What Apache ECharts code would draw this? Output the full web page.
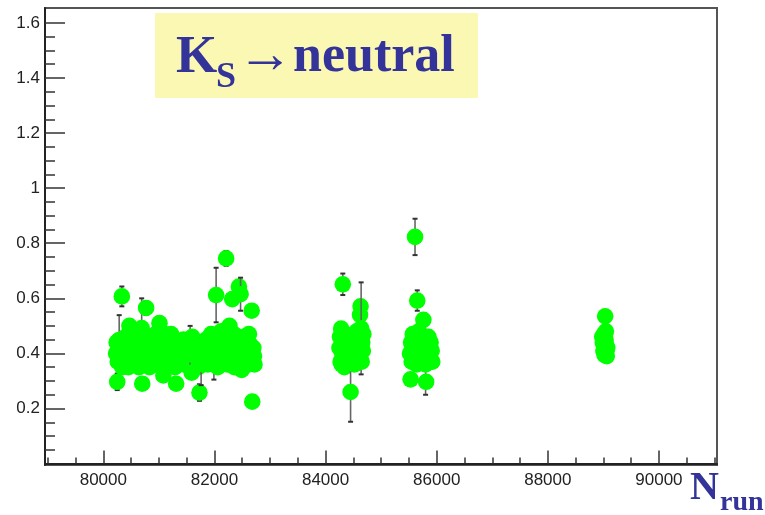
<!DOCTYPE html>
<html>
<head>
<meta charset="utf-8">
<script src="https://cdn.jsdelivr.net/npm/echarts@6/dist/echarts.min.js"></script>
<style>html,body{margin:0;padding:0;background:#fff}#c{width:765px;height:515px}</style>
</head>
<body>
<div id="c"></div>
<script>
// ---- data: run number, ratio value, error ----
const runs = [
  // period A (80200-82720)
  80230,80240,80250,80260,80275,80285,80300,80310,80333,80340,80360,80380,80400,80420,80440,80450,80470,80480,80500,
  80530,80550,80560,80590,80610,80620,80640,80660,80680,80690,80700,80720,80740,80770,80790,80810,80830,80850,80860,80890,80920,80940,80950,80980,
  81010,81030,81040,81060,81080,81100,81120,81140,81150,81180,81200,81220,81230,81260,81290,81310,81330,81340,81360,81390,81420,81440,81450,81480,
  81500,81510,81540,81562,81590,81600,81620,81650,81680,81700,81710,81730,81760,81790,81800,81820,81850,81870,81880,81910,81940,81960,81970,81990,
  82010,82030,82050,82060,82080,82100,82120,82130,82160,82180,82200,82210,82230,82250,82270,82280,82290,82320,82340,82350,82360,82380,82400,82410,82430,
  82440,82460,82470,82480,82490,82510,82530,82540,82550,82570,82590,82610,82620,82630,82650,82660,82670,82680,82690,82700,82710,82720,
  // period B (84250-84680)
  84250,84260,84270,84280,84290,84300,84310,84320,84330,84340,84350,84360,84380,84400,84420,84440,84450,84470,84480,84500,84520,
  84540,84550,84560,84580,84590,84600,84610,84620,84630,84640,84650,84660,84670,84680,
  // period C (85520-85920)
  85520,85530,85540,85550,85560,85570,85580,85600,85610,85620,85630,85640,85650,85660,85680,85690,85700,85720,85740,85750,85760,85780,
  85790,85800,85810,85820,85830,85850,85860,85870,85890,85910,85920,
  // period D (~89000)
  88980,88990,89000,89010,89020,89032,89040,89050,89055,89060,89045,89070
];
const values = [
  0.40,0.44,0.297,0.37,0.395,0.449,0.42,0.38,0.607,0.35,0.43,0.39,0.46,0.37,0.41,0.35,0.50,0.38,0.43,
  0.36,0.41,0.45,0.40,0.38,0.48,0.35,0.42,0.44,0.492,0.29,0.39,0.44,0.565,0.37,0.41,0.35,0.42,0.46,0.39,0.43,0.47,0.36,0.41,
  0.51,0.44,0.41,0.38,0.32,0.47,0.40,0.37,0.42,0.36,0.45,0.47,0.39,0.43,0.35,0.29,0.41,0.37,0.44,0.38,0.42,0.45,0.36,0.40,
  0.38,0.43,0.37,0.424,0.33,0.46,0.41,0.39,0.44,0.40,0.35,0.258,0.37,0.42,0.36,0.39,0.45,0.43,0.36,0.41,0.47,0.41,0.38,0.36,
  0.43,0.612,0.40,0.35,0.46,0.37,0.48,0.42,0.39,0.44,0.40,0.745,0.36,0.41,0.50,0.44,0.38,0.597,0.43,0.47,0.35,0.40,0.38,0.45,0.37,
  0.643,0.42,0.615,0.40,0.34,0.39,0.46,0.36,0.41,0.37,0.44,0.36,0.47,0.40,0.43,0.38,0.555,0.225,0.38,0.42,0.39,0.36,
  0.42,0.46,0.37,0.49,0.36,0.40,0.651,0.44,0.40,0.35,0.43,0.47,0.41,0.37,0.43,0.39,0.26,0.45,0.42,0.40,0.36,
  0.43,0.39,0.48,0.38,0.42,0.45,0.40,0.54,0.571,0.491,0.37,0.44,0.41,0.47,
  0.40,0.306,0.44,0.37,0.43,0.47,0.42,0.39,0.823,0.45,0.40,0.36,0.592,0.41,0.48,0.44,0.38,0.43,0.40,0.46,0.522,0.45,
  0.37,0.36,0.297,0.40,0.42,0.46,0.43,0.39,0.44,0.41,0.37,
  0.46,0.44,0.41,0.47,0.395,0.535,0.45,0.43,0.41,0.39,0.48,0.42
];
const errors = [
  0.02,0.02,0.03,0.02,0.035,0.09,0.02,0.015,0.036,0.02,0.015,0.02,0.02,0.015,0.02,0.015,0.02,0.015,0.02,
  0.02,0.015,0.015,0.02,0.015,0.02,0.02,0.015,0.02,0.108,0.02,0.02,0.02,0.025,0.015,0.02,0.02,0.015,0.02,0.015,0.02,0.015,0.02,0.015,
  0.02,0.02,0.015,0.015,0.02,0.015,0.02,0.015,0.02,0.015,0.02,0.015,0.015,0.02,0.02,0.02,0.015,0.015,0.02,0.02,0.015,0.015,0.02,0.02,
  0.015,0.02,0.015,0.076,0.02,0.015,0.02,0.015,0.02,0.015,0.02,0.03,0.085,0.02,0.015,0.015,0.02,0.015,0.02,0.015,0.02,0.015,0.02,0.055,
  0.02,0.099,0.02,0.015,0.015,0.02,0.015,0.02,0.015,0.02,0.015,0.027,0.02,0.015,0.02,0.015,0.02,0.02,0.015,0.015,0.02,0.02,0.015,0.015,0.02,
  0.02,0.02,0.06,0.015,0.02,0.015,0.02,0.015,0.02,0.015,0.02,0.02,0.015,0.015,0.02,0.015,0.02,0.02,0.02,0.015,0.02,0.015,
  0.02,0.02,0.03,0.02,0.02,0.015,0.039,0.015,0.02,0.015,0.015,0.02,0.015,0.02,0.02,0.015,0.108,0.02,0.015,0.015,0.02,
  0.02,0.015,0.015,0.02,0.015,0.02,0.02,0.02,0.02,0.167,0.02,0.015,0.02,0.02,
  0.02,0.02,0.02,0.015,0.015,0.02,0.015,0.02,0.066,0.02,0.015,0.015,0.037,0.02,0.02,0.015,0.015,0.02,0.015,0.015,0.02,0.02,
  0.02,0.11,0.02,0.015,0.015,0.02,0.015,0.02,0.015,0.02,0.02,
  0.01,0.01,0.01,0.01,0.01,0.01,0.01,0.01,0.01,0.01,0.01,0.01
];
// ---- axis ticks ----
const xMajor = [80000,82000,84000,86000,88000,90000];
const xMinor = [79000,79500,80500,81000,81500,82500,83000,83500,84500,85000,85500,86500,87000,87500,88500,89000,89500,90500,91000];
const yMajor = [0.2,0.4,0.6,0.8,1,1.2,1.4,1.6];
const yMinor = [0.05,0.1,0.15,0.25,0.3,0.35,0.45,0.5,0.55,0.65,0.7,0.75,0.85,0.9,0.95,1.05,1.1,1.15,1.25,1.3,1.35,1.45,1.5,1.55];

const data = runs.map((r, i) => [r, values[i], errors[i]]);

const chart = echarts.init(document.getElementById('c'), null, {renderer: 'canvas'});
const X_MIN = 78950, X_MAX = 91045, Y_MIN = -0.005, Y_MAX = 1.654;
const axisFont = {fontFamily: '"Liberation Sans", Arial, sans-serif', fontSize: 17, color: '#222'};
const blue = '#333399';
const serif = '"Liberation Serif", "Times New Roman", serif';
const plain = v => String(v);

chart.setOption({
  animation: false,
  backgroundColor: '#fff',
  grid: {left: 45, right: 48, top: 8, bottom: 50, show: true, borderColor: '#555', borderWidth: 2, backgroundColor: 'transparent'},
  xAxis: [
    {type: 'value', min: X_MIN, max: X_MAX, position: 'bottom',
     axisLine: {show: true, lineStyle: {color: '#222', width: 2}},
     axisTick: {show: true, inside: true, length: 13, customValues: xMajor, lineStyle: {color: '#333', width: 1.5}},
     axisLabel: Object.assign({show: true, margin: 7, customValues: xMajor, formatter: plain}, axisFont),
     splitLine: {show: false}},
    {type: 'value', min: X_MIN, max: X_MAX, position: 'bottom',
     axisLine: {show: false},
     axisTick: {show: true, inside: true, length: 6, customValues: xMinor, lineStyle: {color: '#333', width: 1.5}},
     axisLabel: {show: false}, splitLine: {show: false}}
  ],
  yAxis: [
    {type: 'value', min: Y_MIN, max: Y_MAX, position: 'left',
     axisLine: {show: true, lineStyle: {color: '#222', width: 2}},
     axisTick: {show: true, inside: true, length: 20, customValues: yMajor, lineStyle: {color: '#333', width: 1.5}},
     axisLabel: Object.assign({show: true, margin: 5, customValues: yMajor, formatter: plain}, axisFont),
     splitLine: {show: false}},
    {type: 'value', min: Y_MIN, max: Y_MAX, position: 'left',
     axisLine: {show: false},
     axisTick: {show: true, inside: true, length: 10, customValues: yMinor, lineStyle: {color: '#333', width: 1.5}},
     axisLabel: {show: false}, splitLine: {show: false}}
  ],
  series: [{
    type: 'custom',
    xAxisIndex: 0, yAxisIndex: 0,
    data: data,
    encode: {x: 0, y: 1},
    renderItem: function (params, api) {
      const x = api.value(0), y = api.value(1), e = api.value(2);
      const c = api.coord([x, y]);
      const t = api.coord([x, y + e]);
      const b = api.coord([x, y - e]);
      const eb = {stroke: '#666', lineWidth: 1.6};
      const cap = {stroke: '#333', lineWidth: 2};
      return {
        type: 'group',
        children: [
          {type: 'line', shape: {x1: c[0], y1: t[1], x2: c[0], y2: b[1]}, style: eb},
          {type: 'line', shape: {x1: c[0] - 2.5, y1: t[1], x2: c[0] + 2.5, y2: t[1]}, style: cap},
          {type: 'line', shape: {x1: c[0] - 2.5, y1: b[1], x2: c[0] + 2.5, y2: b[1]}, style: cap},
          {type: 'circle', shape: {cx: c[0], cy: c[1], r: 8.3}, style: {fill: '#00ff00', stroke: null}}
        ]
      };
    }
  }],
  graphic: [
    {type: 'rect', shape: {x: 155, y: 13, width: 323, height: 85}, style: {fill: '#fbf8b4'}, z: 1},
    {type: 'text', x: 176, y: 58, z: 2, style: {text: 'K', font: 'bold 53px ' + serif, fill: blue, verticalAlign: 'middle'}},
    {type: 'text', x: 216, y: 78, z: 2, style: {text: 'S', font: 'bold 36px ' + serif, fill: blue, verticalAlign: 'middle'}},
    {type: 'text', x: 237, y: 58, z: 2, style: {text: '→', font: 'bold 56px ' + serif, fill: blue, verticalAlign: 'middle'}},
    {type: 'text', x: 293, y: 58, z: 2, style: {text: 'neutral', font: 'bold 52px ' + serif, fill: blue, verticalAlign: 'middle'}},
    {type: 'text', x: 690, y: 489, z: 2, style: {text: 'N', font: 'bold 40px ' + serif, fill: blue, verticalAlign: 'middle'}},
    {type: 'text', x: 720, y: 503, z: 2, style: {text: 'run', font: 'bold 28px ' + serif, fill: blue, verticalAlign: 'middle'}}
  ]
});
</script>
</body>
</html>
